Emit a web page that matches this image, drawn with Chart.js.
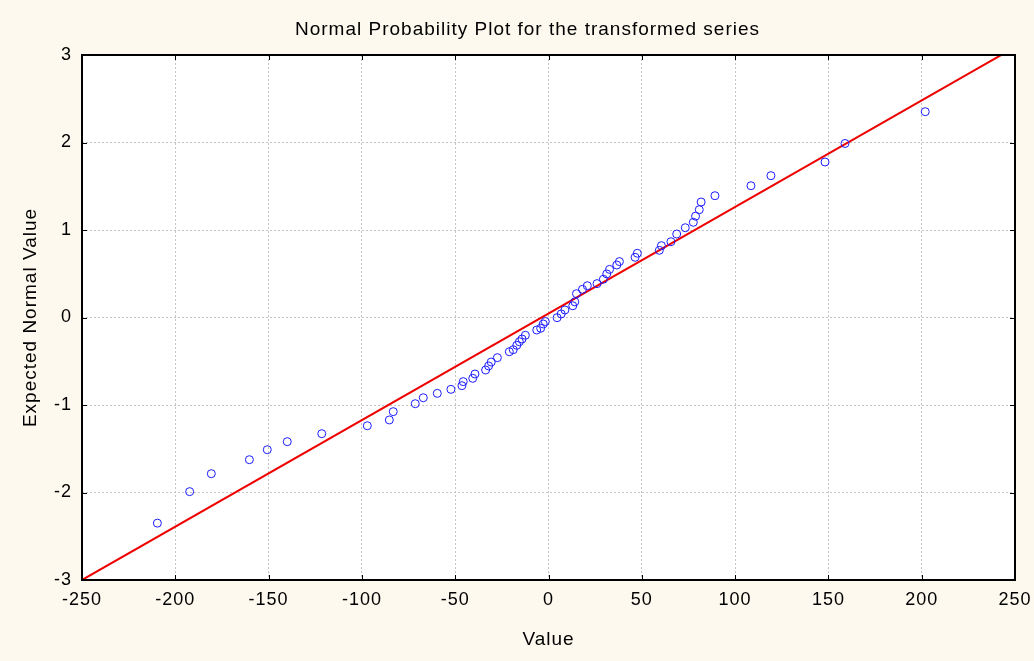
<!DOCTYPE html>
<html>
<head>
<meta charset="utf-8">
<script src="https://cdn.jsdelivr.net/npm/chart.js@4/dist/chart.umd.min.js"></script>
<style>
  html, body { margin: 0; padding: 0; background: #fdf9ee; }
  #wrap { width: 1034px; height: 661px; }
</style>
</head>
<body>
<div id="wrap"><canvas id="probPlot" width="1034" height="661"></canvas></div>
<script>
var observedValues = [-209.6, -192.3, -180.7, -160.3, -150.7, -140.0, -121.5, -97.1, -85.3, -83.2,
    -71.4, -67.1, -59.6, -52.3, -46.4, -45.7, -40.6, -39.4, -33.7, -32.1,
    -30.7, -27.4, -21.0, -18.9, -17.0, -15.6, -14.2, -12.4, -6.3, -4.2,
    -2.8, -1.7, 4.6, 6.8, 8.8, 13.0, 14.1, 15.0, 18.2, 20.8,
    26.0, 29.4, 31.2, 32.7, 36.6, 38.0, 46.4, 47.6, 59.4, 60.5,
    65.6, 68.7, 73.3, 77.6, 78.8, 80.8, 81.8, 89.2, 108.5, 119.2,
    148.2, 158.9, 201.9];
var expectedNormal = [-2.35, -1.99, -1.785, -1.625, -1.511, -1.419, -1.328, -1.237, -1.171, -1.076,
    -0.985, -0.917, -0.867, -0.821, -0.779, -0.733, -0.695, -0.646, -0.600, -0.554,
    -0.509, -0.459, -0.391, -0.368, -0.318, -0.277, -0.246, -0.203, -0.143, -0.123,
    -0.074, -0.046, -0.002, 0.041, 0.086, 0.134, 0.179, 0.272, 0.322, 0.363,
    0.387, 0.437, 0.498, 0.550, 0.600, 0.639, 0.688, 0.734, 0.768, 0.821,
    0.866, 0.954, 1.026, 1.088, 1.158, 1.232, 1.320, 1.392, 1.506, 1.621,
    1.777, 1.989, 2.352];
// reference line end points
var lineX = [-250, 250];
var lineY = [-3.0, 3.09];

var points = observedValues.map(function (v, i) { return {x: v, y: expectedNormal[i]}; });
var linePts = lineX.map(function (v, i) { return {x: v, y: lineY[i]}; });

var font = "'Liberation Sans', Arial, sans-serif";

// the original text is a bit more spread out
var spacing = {
    id: 'spacing',
    beforeLayout: function (chart) { chart.ctx.letterSpacing = '1px'; },
    beforeDraw: function (chart) { chart.ctx.letterSpacing = '1px'; }
};

// black frame with short inward ticks, like the original
var framePlugin = {
    id: 'frame',
    afterDraw: function (chart) {
        var ctx = chart.ctx, a = chart.chartArea;
        var xs = chart.scales.x, ys = chart.scales.y;
        ctx.save();
        ctx.strokeStyle = '#000';
        ctx.lineWidth = 1;
        ctx.beginPath();
        xs.ticks.forEach(function (t) {
            var px = Math.round(xs.getPixelForValue(t.value)) + 0.5;
            ctx.moveTo(px, a.top); ctx.lineTo(px, a.top + 5);
            ctx.moveTo(px, a.bottom); ctx.lineTo(px, a.bottom - 5);
        });
        ys.ticks.forEach(function (t) {
            var py = Math.round(ys.getPixelForValue(t.value)) + 0.5;
            ctx.moveTo(a.left, py); ctx.lineTo(a.left + 5, py);
            ctx.moveTo(a.right, py); ctx.lineTo(a.right - 5, py);
        });
        ctx.stroke();
        ctx.lineWidth = 2;
        ctx.strokeRect(a.left, a.top, a.right - a.left, a.bottom - a.top);
        ctx.restore();
    }
};

var plotBg = {
    id: 'plotBg',
    beforeDraw: function (chart) {
        var ctx = chart.ctx, a = chart.chartArea;
        ctx.save();
        ctx.fillStyle = '#fdf9ee';
        ctx.fillRect(0, 0, chart.width, chart.height);
        ctx.fillStyle = '#ffffff';
        ctx.fillRect(a.left, a.top, a.right - a.left, a.bottom - a.top);
        ctx.restore();
    }
};

var ctx = document.getElementById('probPlot').getContext('2d');
var probChart = new Chart(ctx, {
    type: 'scatter',
    data: {
        datasets: [{
            label: 'Values',
            data: points,
            showLine: false,
            pointStyle: 'circle',
            pointRadius: 4,
            pointHoverRadius: 4,
            borderWidth: 1,
            borderColor: '#1c1cff',
            backgroundColor: 'rgba(0,0,0,0)'
        }, {
            type: 'line',
            label: 'Normal line',
            data: linePts,
            borderColor: '#ee0000',
            borderWidth: 2,
            pointRadius: 0,
            fill: false
        }]
    },
    options: {
        responsive: false,
        animation: false,
        events: [],
        layout: { padding: { left: 40, right: 19, top: 0, bottom: 0 } },
        plugins: {
            legend: { display: false },
            tooltip: { enabled: false },
            title: {
                display: true,
                text: 'Normal Probability Plot for the transformed series',
                color: '#000',
                font: { family: font, size: 19, weight: 'normal' },
                padding: { top: 18, bottom: 14.2 }
            }
        },
        scales: {
            x: {
                type: 'linear',
                min: -250,
                max: 250,
                afterFit: function (s) { s.height = 81; s.paddingLeft = 0; s.paddingRight = 0; },
                ticks: { stepSize: 50, color: '#000', padding: 9, font: { family: font, size: 18 } },
                grid: { color: '#c4c4c4', lineWidth: 1, drawTicks: false },
                border: { display: false, dash: [2, 2] },
                title: { display: true, text: 'Value', color: '#000',
                    font: { family: font, size: 19 }, padding: { top: 0, bottom: 10 } }
            },
            y: {
                type: 'linear',
                min: -3,
                max: 3,
                afterFit: function (s) { s.width = 42; },
                ticks: { stepSize: 1, color: '#000', padding: 10, font: { family: font, size: 18 } },
                grid: { color: '#c4c4c4', lineWidth: 1, drawTicks: false },
                border: { display: false, dash: [2, 2] },
                title: { display: true, text: 'Expected Normal Value', color: '#000',
                    font: { family: font, size: 19 }, padding: { top: -21, bottom: 0 } }
            }
        }
    },
    plugins: [spacing, plotBg, framePlugin]
});
</script>
</body>
</html>
